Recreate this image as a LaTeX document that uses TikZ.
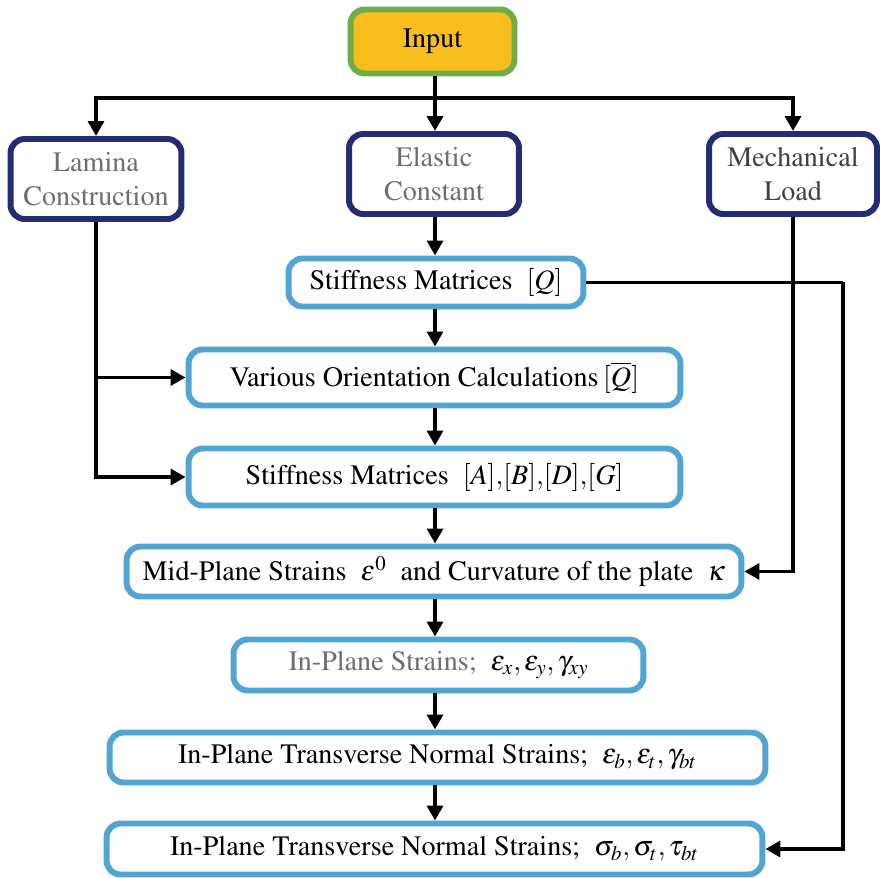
\documentclass[tikz,border=0pt]{standalone}
\usepackage[T1]{fontenc}
\usepackage{mathptmx}
\usetikzlibrary{arrows.meta}
\definecolor{inputfill}{HTML}{F8BE1E}
\definecolor{inputline}{HTML}{70AD47}
\definecolor{navyline}{HTML}{252D72}
\definecolor{skyline}{HTML}{52A5D3}
\definecolor{greytext}{HTML}{6E6E6E}
\definecolor{darktext}{HTML}{404040}

\begin{document}
\begin{tikzpicture}[x=0.02cm,y=-0.02cm]
        \tikzstyle{basebox}=[rectangle, rounded corners=8pt, line width=3.4pt, align=center,
        font=\fontsize{16}{19}\selectfont, inner sep=2pt]
        \tikzstyle{inbox}=[basebox, draw=inputline, fill=inputfill]
        \tikzstyle{topbox}=[basebox, draw=navyline, fill=white, minimum height=1.6cm]
        \tikzstyle{stepbox}=[basebox, draw=skyline, fill=white]
        \tikzstyle{arr}=[line width=2.2pt, -{Triangle[length=8.5pt,width=9pt]}]
        \tikzstyle{wire}=[line width=2.2pt]
        \useasboundingbox (0,0) rectangle (880,878);

        \node[inbox, minimum width=3.28cm, minimum height=1.28cm] (input) at (432.5,41.5) {Input};
        \node[topbox, minimum width=3.42cm, text=greytext] (lamina) at (96,179) {Lamina\\Construction};
        \node[topbox, minimum width=3.4cm, text=greytext] (elastic) at (434,174) {Elastic\\Constant};
        \node[topbox, minimum width=3.36cm, text=darktext] (mech) at (793,174) {Mechanical\\Load};
        \node[stepbox, minimum width=5.9cm, minimum height=0.96cm] (stiffQ) at (436,282.5) {Stiffness Matrices\ \ $[Q]$};
        \node[stepbox, minimum width=9.84cm, minimum height=1.12cm] (various) at (434.5,377.5) {Various Orientation Calculations\,$[\overline{Q}]$};
        \node[stepbox, minimum width=9.84cm, minimum height=1.14cm] (abdg) at (434.5,477) {Stiffness Matrices\ \ $[A],\![B],\![D],\![G]$};
        \node[stepbox, minimum width=12.3cm, minimum height=1.0cm] (midplane) at (434,571.5) {Mid-Plane Strains\ \ $\varepsilon^0$\ \ and Curvature of the plate\ \ $\kappa$};
        \node[stepbox, minimum width=8.2cm, minimum height=1.02cm] (inplane) at (438.5,665) {\textcolor{greytext}{In-Plane Strains;}\ \ $\varepsilon_x,\varepsilon_y,\gamma_{xy}$};
        \node[stepbox, minimum width=13.12cm, minimum height=1.0cm] (transE) at (437.5,757.5) {In-Plane Transverse Normal Strains;\ \ $\varepsilon_b,\varepsilon_t,\gamma_{bt}$};
        \node[stepbox, minimum width=13.12cm, minimum height=1.02cm] (transS) at (434.5,849) {In-Plane Transverse Normal Strains;\ \ $\sigma_b,\sigma_t,\tau_{bt}$};

        \coordinate (split) at (435,98);
        \coordinate (qturn) at (843,282.5);
        \draw[arr] (input.south -| split) -- (split |- elastic.north);
        \draw[arr] (split) -| (lamina.north);
        \draw[arr] (split) -| (mech.north);
        \draw[arr] (elastic.south -| split) -- (split |- stiffQ.north);
        \draw[arr] (stiffQ.south -| split) -- (split |- various.north);
        \draw[arr] (various.south -| split) -- (split |- abdg.north);
        \draw[arr] (abdg.south -| split) -- (split |- midplane.north);
        \draw[arr] (midplane.south -| split) -- (split |- inplane.north);
        \draw[arr] (inplane.south -| split) -- (split |- transE.north);
        \draw[arr] (transE.south -| split) -- (split |- transS.north);
        \draw[wire] (lamina.south) -- (lamina.south |- various.west);
        \draw[arr] (lamina.south |- various.west) -- (various.west);
        \draw[arr] (lamina.south |- various.west) |- (abdg.west);
        \draw[arr] (mech.south) |- (midplane.east);
        \draw[wire] (stiffQ.east) -- (qturn);
        \draw[arr] (qturn) |- (transS.east);
      \end{tikzpicture}
\end{document}
